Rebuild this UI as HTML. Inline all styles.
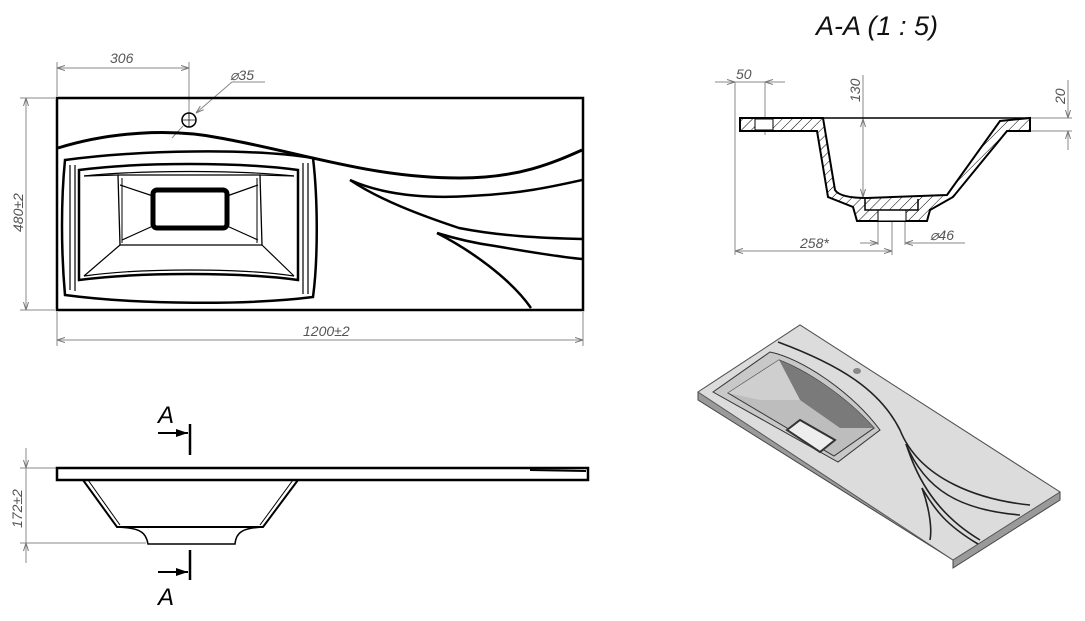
<!DOCTYPE html>
<html><head><meta charset="utf-8"><style>
html,body{margin:0;padding:0;background:#fff;width:1085px;height:621px;overflow:hidden}
svg{display:block}
.d{font-family:"Liberation Sans",sans-serif;font-style:italic;fill:#555;font-size:14px}
</style></head><body>
<svg width="1085" height="621" viewBox="0 0 1085 621" xmlns="http://www.w3.org/2000/svg">
<defs>
<pattern id="h" width="7" height="7" patternUnits="userSpaceOnUse" patternTransform="rotate(45)">
<rect width="7" height="7" fill="#fff"/><line x1="0" y1="0" x2="0" y2="7" stroke="#000" stroke-width="1"/></pattern>
<marker id="a" markerWidth="8" markerHeight="6" refX="8" refY="3" orient="auto-start-reverse" markerUnits="userSpaceOnUse"><path d="M0,0.5 L8,3 L0,5.5" fill="none" stroke="#777" stroke-width="1"/></marker>
<marker id="b" markerWidth="12" markerHeight="8" refX="12" refY="4" orient="auto" markerUnits="userSpaceOnUse"><path d="M0,0 L12,4 L0,8 Z" fill="#000"/></marker>
</defs>

<!-- PLAN VIEW -->
<g stroke="#888" stroke-width="1" fill="none">
<line x1="57" y1="62" x2="57" y2="96"/><line x1="189" y1="62" x2="189" y2="118"/>
<line x1="57" y1="68" x2="189" y2="68" marker-start="url(#a)" marker-end="url(#a)"/>
<line x1="20" y1="98" x2="55" y2="98"/><line x1="20" y1="310" x2="55" y2="310"/>
<line x1="26" y1="98" x2="26" y2="310" marker-start="url(#a)" marker-end="url(#a)"/>
<line x1="57" y1="312" x2="57" y2="346"/><line x1="583" y1="312" x2="583" y2="346"/>
<line x1="57" y1="340" x2="583" y2="340" marker-start="url(#a)" marker-end="url(#a)"/>
<line x1="265" y1="82" x2="232" y2="82"/>
<line x1="232" y1="82" x2="196" y2="113" marker-end="url(#a)"/>
<line x1="172" y1="138" x2="183" y2="126"/>
</g>
<text class="d" x="110" y="63">306</text>
<text class="d" x="230" y="80">⌀35</text>
<text class="d" x="303" y="336">1200±2</text>
<text class="d" transform="translate(23,232) rotate(-90)">480±2</text>

<g fill="none" stroke="#000">
<rect x="57" y="98" width="526" height="212" stroke-width="2.5"/>
<circle cx="189" cy="120" r="7" stroke-width="1.5"/>
<line x1="182" y1="120" x2="196" y2="120" stroke-width="0.7"/><line x1="189" y1="113" x2="189" y2="127" stroke-width="0.7"/>
<path d="M58,148 C110,132 170,128 220,138 C300,152 370,178 460,178 C520,178 555,162 582,150" stroke-width="3"/>
<path d="M350,180 C390,198 440,198 470,196 C520,194 555,186 582,180" stroke-width="2.5"/>
<path d="M350,180 C380,200 420,215 459,228 C500,236 540,238 582,239" stroke-width="2.5"/>
<path d="M437,233 C460,240 480,244 495,246 C530,252 560,257 582,259" stroke-width="2.5"/>
<path d="M437,233 C470,250 510,278 531,308" stroke-width="2.5"/>
<!-- basin -->
<path d="M65,160 C140,150 250,148 313,158 C318,200 318,260 313,297 C250,305 140,305 65,295 C61,250 61,200 65,160 Z" stroke-width="2.5"/>
<path d="M70,165 L70,290 M75,165 L75,291 M308,163 L308,294 M303,163 L303,294" stroke-width="1.2"/>
<path d="M79,170 C140,162 240,162 298,170 L298,280 C240,272 140,272 79,280 Z" stroke-width="2.5"/>
<path d="M84,176 C140,170 240,170 294,176 M84,276 C140,268 240,268 294,276" stroke-width="1.2"/>
<path d="M118,175 L260,175 L262,245 L120,245 Z" stroke-width="1.3"/>
<path d="M122,178 L122,243 M257,178 L257,243" stroke-width="1"/>
<path d="M84,176 L118,175 M294,176 L260,175 M84,276 L120,245 M294,276 L262,245 M120,185 L153,196 M258,185 L227,196 M122,240 L153,226 M258,240 L227,226" stroke-width="1.2"/>
<rect x="153" y="190" width="74" height="38" rx="4" stroke-width="5"/>
</g>

<!-- SIDE VIEW -->
<g stroke="#888" stroke-width="1" fill="none">
<line x1="20" y1="468" x2="56" y2="468"/><line x1="20" y1="543" x2="146" y2="543"/>
<line x1="26" y1="448" x2="26" y2="468" marker-end="url(#a)"/>
<line x1="26" y1="563" x2="26" y2="543" marker-end="url(#a)"/>
<line x1="26" y1="468" x2="26" y2="543"/>
</g>
<text class="d" transform="translate(22,528) rotate(-90)">172±2</text>
<g fill="none" stroke="#000">
<path d="M57,468 L588,468 L588,480 L57,480 Z" stroke-width="2.5"/>
<line x1="530" y1="470" x2="586" y2="471" stroke-width="2"/>
<path d="M83,480 L117,527 L263,527 L298,480" stroke-width="2"/>
<path d="M88,480 L120,525 M293,480 L260,525" stroke-width="1"/>
<path d="M117,527 C140,528 146,532 148,544 L235,544 C236,532 243,528 263,527" stroke-width="1.5"/>
<line x1="190" y1="424" x2="190" y2="455" stroke-width="2.5"/>
<line x1="190" y1="550" x2="190" y2="580" stroke-width="2.5"/>
<line x1="158" y1="433" x2="188" y2="433" stroke-width="2" marker-end="url(#b)"/>
<line x1="158" y1="572" x2="188" y2="572" stroke-width="2" marker-end="url(#b)"/>
</g>
<text x="158" y="423" font-family="Liberation Sans,sans-serif" font-style="italic" font-size="24">A</text>
<text x="158" y="605" font-family="Liberation Sans,sans-serif" font-style="italic" font-size="24">A</text>

<!-- SECTION A-A -->
<text x="816" y="35" font-family="Liberation Sans,sans-serif" font-style="italic" font-size="27" fill="#111">A-A (1 : 5)</text>
<g stroke="#888" stroke-width="1" fill="none">
<line x1="735" y1="82" x2="735" y2="255"/><line x1="765" y1="82" x2="765" y2="135"/>
<line x1="715" y1="82" x2="735" y2="82" marker-end="url(#a)"/><line x1="785" y1="82" x2="765" y2="82" marker-end="url(#a)"/>
<line x1="735" y1="82" x2="765" y2="82"/>
<line x1="863" y1="75" x2="863" y2="198"/>
<line x1="863" y1="140" x2="863" y2="119" marker-end="url(#a)"/><line x1="863" y1="180" x2="863" y2="197" marker-end="url(#a)"/>
<line x1="1030" y1="118" x2="1072" y2="118"/><line x1="1030" y1="131" x2="1072" y2="131"/>
<line x1="1068" y1="80" x2="1068" y2="118" marker-end="url(#a)"/><line x1="1068" y1="150" x2="1068" y2="131" marker-end="url(#a)"/>
<line x1="878" y1="222" x2="878" y2="245"/><line x1="905" y1="222" x2="905" y2="245"/>
<line x1="860" y1="243" x2="878" y2="243" marker-end="url(#a)"/><line x1="923" y1="243" x2="905" y2="243" marker-end="url(#a)"/>
<line x1="905" y1="243" x2="965" y2="243"/>
<line x1="892" y1="200" x2="892" y2="255"/>
<line x1="735" y1="251" x2="892" y2="251" marker-start="url(#a)" marker-end="url(#a)"/>
</g>
<text class="d" x="736" y="79">50</text>
<text class="d" transform="translate(860,102) rotate(-90)">130</text>
<text class="d" transform="translate(1065,104) rotate(-90)">20</text>
<text class="d" x="930" y="240">⌀46</text>
<text class="d" x="800" y="248">258*</text>
<path d="M740,118 L823,118 L835,190 Q840,198 867,198 L947,195 L1000,121 L1030,118 L1030,131 L1007,131 L953,197 L930,210 L927,221 L857,221 L853,207 L828,197 L817,131 L740,131 Z" fill="url(#h)" stroke="#000" stroke-width="2"/>
<rect x="755" y="119" width="18" height="11" fill="#fff" stroke="#000" stroke-width="1"/>
<rect x="878" y="210" width="28" height="11" fill="#fff" stroke="#000" stroke-width="1"/>
<path d="M865,199 L865,210 L918,210 L918,199" fill="none" stroke="#000" stroke-width="1.5"/>
<line x1="740" y1="118" x2="1030" y2="118" stroke="#000" stroke-width="1.5"/>

<!-- ISO VIEW -->
<path d="M698,392 L800,325 L1060,492 L1060,500 L953,568 L953,560 L698,400 Z" fill="#9a9a9a" stroke="#444"/>
<path d="M698,392 L800,325 L1060,492 L953,560 Z" fill="#dcdcdc" stroke="#555"/>
<path d="M713,392 L770,352 C800,358 850,390 880,430 L838,462 Z" fill="#c8c8c8" stroke="#333"/>
<path d="M728,393 L779,360 C805,370 845,395 874,428 L834,456 Z" fill="#bdbdbd" stroke="#333"/>
<path d="M779,360 C805,370 845,395 874,428 L840,428 L800,400 Z" fill="#7a7a7a"/>
<path d="M728,393 L779,360 L800,400 L760,400 Z" fill="#cfcfcf"/>
<path d="M787,430 L800,420 L835,440 L820,452 Z" fill="#eee" stroke="#333" stroke-width="2"/>
<ellipse cx="857" cy="371" rx="4" ry="3" fill="#888"/>
<g fill="none" stroke="#222" stroke-width="1.6">
<path d="M778,342 C840,365 880,390 900,430 C920,480 980,500 1030,505"/>
<path d="M906,444 C925,490 960,510 1020,515"/>
<path d="M906,444 C915,470 930,510 980,540"/>
<path d="M922,488 C935,510 946,525 978,544"/>
<path d="M922,488 C930,510 932,530 930,540"/>
</g>
</svg>
</body></html>
